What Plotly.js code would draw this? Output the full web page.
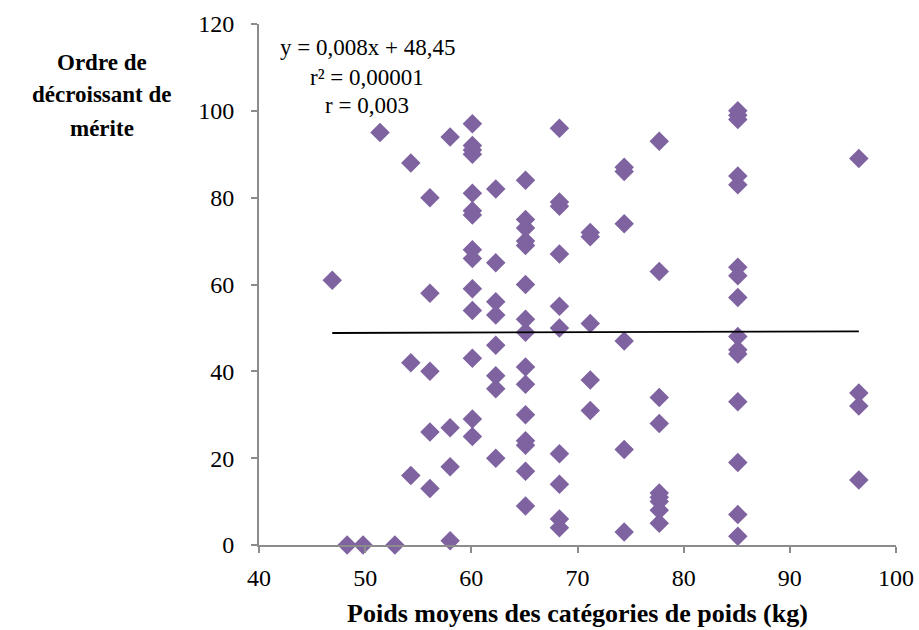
<!DOCTYPE html>
<html>
<head>
<meta charset="utf-8">
<script src="https://cdn.plot.ly/plotly-3.0.1.min.js"></script>
<style>html,body{margin:0;padding:0;background:#fff}#chart{width:919px;height:630px}</style>
</head>
<body>
<div id="chart"></div>
<script>
// Mean weight of the weight category (kg) for each athlete
const weightX = [
  46.9,
  48.3,
  49.8,
  51.4,
  52.8,
  54.3, 54.3, 54.3,
  56.1, 56.1, 56.1, 56.1, 56.1,
  58.0, 58.0, 58.0, 58.0,
  60.1, 60.1, 60.1, 60.1, 60.1, 60.1, 60.1, 60.1, 60.1, 60.1, 60.1, 60.1, 60.1, 60.1,
  62.3, 62.3, 62.3, 62.3, 62.3, 62.3, 62.3, 62.3,
  65.1, 65.1, 65.1, 65.1, 65.1, 65.1, 65.1, 65.1, 65.1, 65.1, 65.1, 65.1, 65.1, 65.1, 65.1,
  68.3, 68.3, 68.3, 68.3, 68.3, 68.3, 68.3, 68.3, 68.3, 68.3,
  71.2, 71.2, 71.2, 71.2, 71.2,
  74.4, 74.4, 74.4, 74.4, 74.4, 74.4,
  77.7, 77.7, 77.7, 77.7, 77.7, 77.7, 77.7, 77.7, 77.7,
  85.1, 85.1, 85.1, 85.1, 85.1, 85.1, 85.1, 85.1, 85.1, 85.1, 85.1, 85.1, 85.1, 85.1, 85.1,
  96.5, 96.5, 96.5, 96.5
];
// Rank in decreasing order of merit
const rankY = [
  61,
  0,
  0,
  95,
  0,
  88, 42, 16,
  80, 58, 40, 26, 13,
  94, 27, 18, 1,
  97, 92, 91, 90, 81, 77, 76, 68, 66, 59, 54, 43, 29, 25,
  82, 65, 56, 53, 46, 39, 36, 20,
  84, 75, 73, 70, 69, 60, 52, 49, 41, 37, 30, 24, 23, 17, 9,
  96, 79, 78, 67, 55, 50, 21, 14, 6, 4,
  72, 71, 51, 38, 31,
  87, 86, 74, 47, 22, 3,
  93, 63, 34, 28, 12, 11, 10, 8, 5,
  100, 99, 98, 85, 83, 64, 62, 57, 48, 45, 44, 33, 19, 7, 2,
  89, 35, 32, 15
];
// Linear trend line as printed on the chart
const trendSlope = 0.008;
const trendIntercept = 48.45;
const trendX = [46.9, 96.5];
const trendY = trendX.map(x => trendSlope * x + trendIntercept);

const xTicks = [40, 50, 60, 70, 80, 90, 100];
const yTicks = [0, 20, 40, 60, 80, 100, 120];
const equationLines = ["y = 0,008x + 48,45", "r² = 0,00001", "r = 0,003"];
const xTitle = "Poids moyens des catégories de poids (kg)";
const yTitleLines = ["Ordre de", "décroissant de", "mérite"];

const serif = "'Liberation Serif', 'Times New Roman', serif";

const traces = [
  {
    type: 'scatter', mode: 'markers',
    x: weightX, y: rankY,
    marker: {symbol: 'diamond', size: 15, color: '#7f63a1', line: {width: 0}},
    hoverinfo: 'x+y', showlegend: false, cliponaxis: false
  },
  {
    type: 'scatter', mode: 'lines',
    x: trendX, y: trendY,
    line: {color: '#000000', width: 1.8},
    showlegend: false, hoverinfo: 'skip'
  }
];

const axisCommon = {
  showgrid: false, zeroline: false,
  showline: true, linecolor: '#8c8c8c', linewidth: 2,
  ticks: 'outside', ticklen: 6, tickwidth: 2, tickcolor: '#8c8c8c',
  tickfont: {family: serif, size: 24, color: '#000'}
};

const yTitlePos = [0.927, 0.864, 0.800];
const eqPos = [0.954, 0.898, 0.843];

const annotations = [];
yTitleLines.forEach((t, i) => annotations.push({
  xref: 'paper', yref: 'paper', x: -0.247, y: yTitlePos[i], xanchor: 'center', yanchor: 'middle',
  text: '<b>' + t + '</b>', showarrow: false,
  font: {family: serif, size: 23, color: '#000'}
}));
equationLines.forEach((t, i) => annotations.push({
  xref: 'paper', yref: 'paper', x: 0.170, y: eqPos[i], xanchor: 'center', yanchor: 'middle',
  text: t, showarrow: false,
  font: {family: serif, size: 23, color: '#000'}
}));

const layout = {
  width: 919, height: 630,
  margin: {l: 259, r: 23, t: 24, b: 85},
  paper_bgcolor: '#fff', plot_bgcolor: '#fff',
  xaxis: Object.assign({}, axisCommon, {
    range: [40, 100], tickmode: 'array', tickvals: xTicks, ticktext: xTicks.map(String),
    ticklabelstandoff: 4,
    title: {text: '<b>' + xTitle + '</b>', font: {family: serif, size: 26, color: '#000'}, standoff: 14}
  }),
  yaxis: Object.assign({}, axisCommon, {
    range: [0, 120], tickmode: 'array', tickvals: yTicks, ticktext: yTicks.map(String),
    ticklabelstandoff: 12
  }),
  annotations: annotations
};

Plotly.newPlot('chart', traces, layout, {displayModeBar: false, staticPlot: true});
</script>
</body>
</html>
